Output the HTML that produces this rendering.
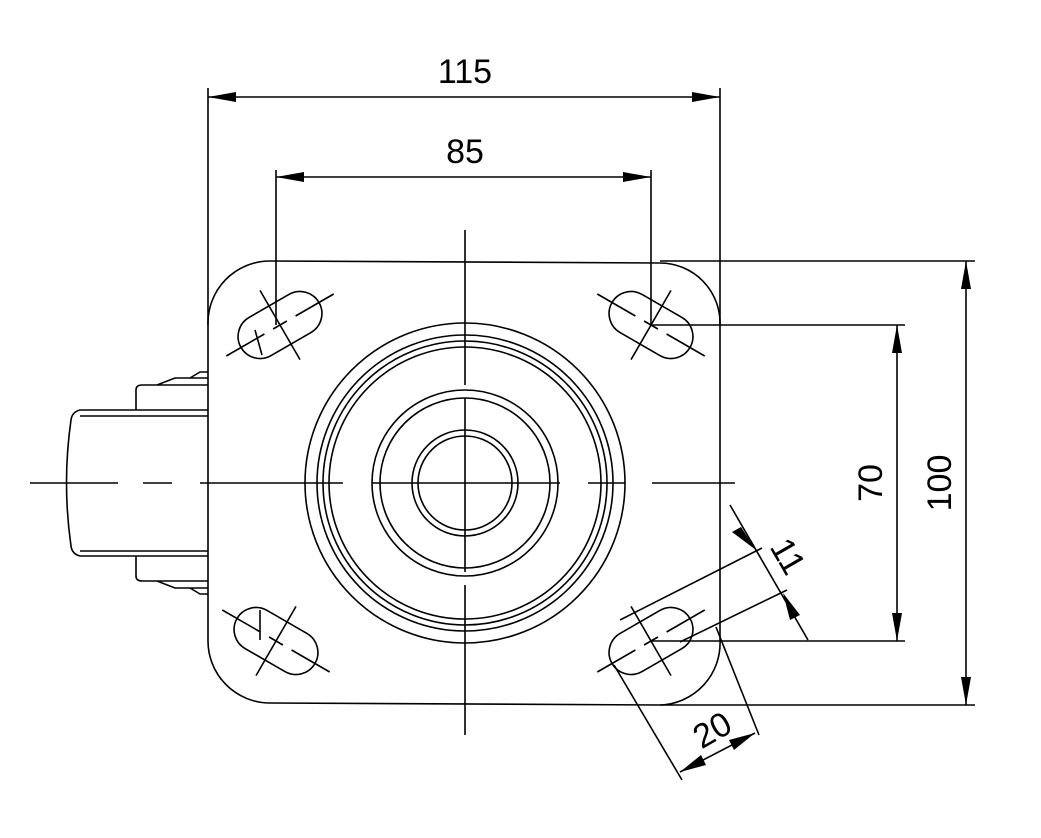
<!DOCTYPE html>
<html><head><style>html,body{margin:0;padding:0;background:#fff}svg{display:block}text{font-family:"Liberation Sans",sans-serif;font-size:34px;fill:#000}</style></head><body>
<svg width="1041" height="838" viewBox="0 0 1041 838" xmlns="http://www.w3.org/2000/svg">
<defs>
<g id="slot" fill="none" stroke="#000" stroke-width="1.6">
<rect x="-45" y="-22" width="90" height="44" rx="22"/>
<line x1="-62" y1="0" x2="-18" y2="0"/><line x1="-8" y1="0" x2="8" y2="0"/><line x1="18" y1="0" x2="62" y2="0"/>
<line x1="0" y1="-40" x2="0" y2="40"/>
</g>
</defs>
<g fill="none" stroke="#000" stroke-width="1.6">
<!-- plate -->
<path d="M208,325 A62,62 0 0 1 270,261 L660,263 A60,60 0 0 1 720,325 L720,640 A62,62 0 0 1 660,705 L270,703 A62,62 0 0 1 208,640 Z"/>
<!-- extension lines -->
<line x1="208" y1="88" x2="208" y2="325"/>
<line x1="720" y1="88" x2="720" y2="325"/>
<line x1="276" y1="170" x2="276" y2="325"/>
<line x1="651" y1="170" x2="651" y2="325"/>
<line x1="208" y1="97" x2="720" y2="97"/>
<line x1="276" y1="177" x2="651" y2="177"/>
<line x1="660" y1="261" x2="975" y2="261"/>
<line x1="660" y1="705" x2="975" y2="705"/>
<line x1="651" y1="325" x2="905" y2="325"/>
<line x1="651" y1="641" x2="905" y2="641"/>
<line x1="966" y1="261" x2="966" y2="705"/>
<line x1="897" y1="325" x2="897" y2="641"/>
<!-- circles -->
<circle cx="465" cy="483" r="160"/>
<circle cx="465" cy="483" r="148"/>
<circle cx="465" cy="483" r="142"/>
<circle cx="465" cy="483" r="136"/>
<circle cx="465" cy="483" r="93"/>
<circle cx="465" cy="483" r="85"/>
<circle cx="465" cy="483" r="53"/>
<circle cx="465" cy="483" r="47"/>
<!-- centerlines -->
<path d="M465,230V385M465,398V572M465,585V735"/>
<path d="M30,483H118M143,483H172M200,483H343M372,483H560M588,483H625M652,483H735"/>
<!-- wheel -->
<path d="M208,410 L80,410 Q72,412 71,420 Q62,483 71,546 Q72,554 80,556 L208,556"/>
<path d="M80,416H208M80,551H208"/>
<path d="M136,410 V390 Q136,385 142,385 L157,385 L175,378 L208,378 M190,378 L200,372 L208,372 M142,385 H208"/>
<path d="M136,556 V576 Q136,581 142,581 L157,581 L175,588 L208,588 M190,588 L200,594 L208,594 M142,581 H208"/>
<!-- 20 dim -->
<line x1="614" y1="665" x2="682" y2="780"/>
<line x1="716" y1="627" x2="759" y2="735"/>
<line x1="680" y1="772" x2="755" y2="733"/>
<!-- 11 dim -->
<line x1="620" y1="620" x2="762" y2="548"/>
<line x1="680" y1="642" x2="787" y2="590"/>
<line x1="730" y1="505" x2="808" y2="640"/>
<line x1="260" y1="610" x2="260" y2="640"/>
<line x1="255" y1="330" x2="262" y2="355"/>
</g>
<use href="#slot" transform="translate(280,325) rotate(-30)"/>
<use href="#slot" transform="translate(651,325) rotate(30)"/>
<use href="#slot" transform="translate(276,641) rotate(30)"/>
<use href="#slot" transform="translate(651,641) rotate(-30)"/>
<!-- arrows -->
<g fill="#000">
<polygon points="208,97 236,92 236,102"/><polygon points="720,97 692,92 692,102"/>
<polygon points="276,177 304,172 304,182"/><polygon points="651,177 623,172 623,182"/>
<polygon points="966,261 961,289 971,289"/><polygon points="966,705 961,677 971,677"/>
<polygon points="897,325 892,353 902,353"/><polygon points="897,641 892,613 902,613"/>
<polygon points="680,772 701,755 706,765"/><polygon points="755,733 734,750 729,740"/>
<polygon points="756,550 741,527 732,532"/><polygon points="783,593 790,620 800,615"/>
</g>
<text x="465" y="83" text-anchor="middle">115</text>
<text x="465" y="163" text-anchor="middle">85</text>
<text transform="translate(882,483) rotate(-90)" text-anchor="middle">70</text>
<text transform="translate(951,483) rotate(-90)" text-anchor="middle">100</text>
<text transform="translate(718,740) rotate(-30)" text-anchor="middle">20</text>
<text transform="translate(778,562) rotate(60)" text-anchor="middle">11</text>
</svg>
</body></html>
